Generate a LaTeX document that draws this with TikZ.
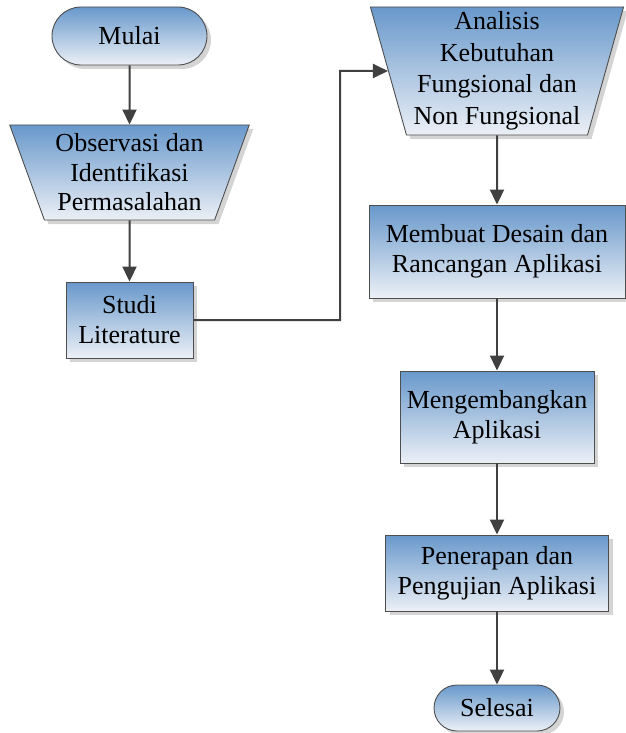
\documentclass[tikz,border=0pt]{standalone}
\usepackage{fontspec}
\setmainfont{Liberation Serif}
\usetikzlibrary{shapes.geometric,shapes.misc,shadows,arrows.meta}

\definecolor{boxtop}{RGB}{104,152,203}
\definecolor{boxbottom}{RGB}{236,240,246}
\definecolor{edge}{RGB}{78,78,78}
\definecolor{wire}{RGB}{64,64,64}
\definecolor{shade}{RGB}{212,212,212}

\tikzset{
  flowbase/.style={draw=edge, line width=0.9pt, top color=boxtop, bottom color=boxbottom,
    align=center, inner sep=0pt, text=black,
    font=\fontsize{26}{30}\selectfont,
    drop shadow={shadow xshift=4pt, shadow yshift=-4pt, fill=shade, opacity=1}},
  terminal/.style={flowbase, rounded rectangle},
  process/.style={flowbase, rectangle},
  manual/.style={flowbase, trapezium, shape border rotate=180, trapezium stretches=true},
  arr/.style={draw=wire, line width=2pt, -{Triangle[length=15pt,width=14pt]}},
}

\begin{document}
\begin{tikzpicture}[x=1pt,y=-1pt]
  \useasboundingbox (0,0) rectangle (625,733);

  % left column
  \node[terminal, minimum width=155pt, minimum height=58pt] (mulai) at (129.5,36) {Mulai};
  \node[manual, minimum width=240pt, minimum height=95pt, trapezium angle=68.7,
        font=\fontsize{26}{29.5}\selectfont] (obs) at (129.5,172.5)
    {\raisebox{-3pt}{Observasi dan}\\\raisebox{-3pt}{Identifikasi}\\\raisebox{-3pt}{Permasalahan}};
  \node[process, minimum width=127pt, minimum height=76pt] (studi) at (129.5,320) {Studi\\Literature};

  % right column
  \node[manual, minimum width=254pt, minimum height=128pt, trapezium angle=74.3,
        font=\fontsize{26}{31.5}\selectfont] (ana) at (497,71)
    {Analisis\\Kebutuhan\\Fungsional dan\\Non Fungsional};
  \node[process, minimum width=256pt, minimum height=93pt] (desain) at (497,251.5)
    {Membuat Desain dan\\Rancangan Aplikasi};
  \node[process, minimum width=194pt, minimum height=92pt] (kembang) at (497,417)
    {Mengembangkan\\Aplikasi};
  \node[process, minimum width=223pt, minimum height=76pt] (terap) at (497,573)
    {Penerapan dan\\Pengujian Aplikasi};
  \node[terminal, minimum width=126pt, minimum height=46pt] (selesai) at (497,708) {Selesai};

  % connectors
  \coordinate (bend) at (340,71);
  \draw[arr] (mulai) -- (obs);
  \draw[arr] (obs) -- (studi);
  \draw[arr] (studi.east) -| (bend) -- (ana.west);
  \draw[arr] (ana) -- (desain);
  \draw[arr] (desain) -- (kembang);
  \draw[arr] (kembang) -- (terap);
  \draw[arr] (terap) -- (selesai);
\end{tikzpicture}
\end{document}
